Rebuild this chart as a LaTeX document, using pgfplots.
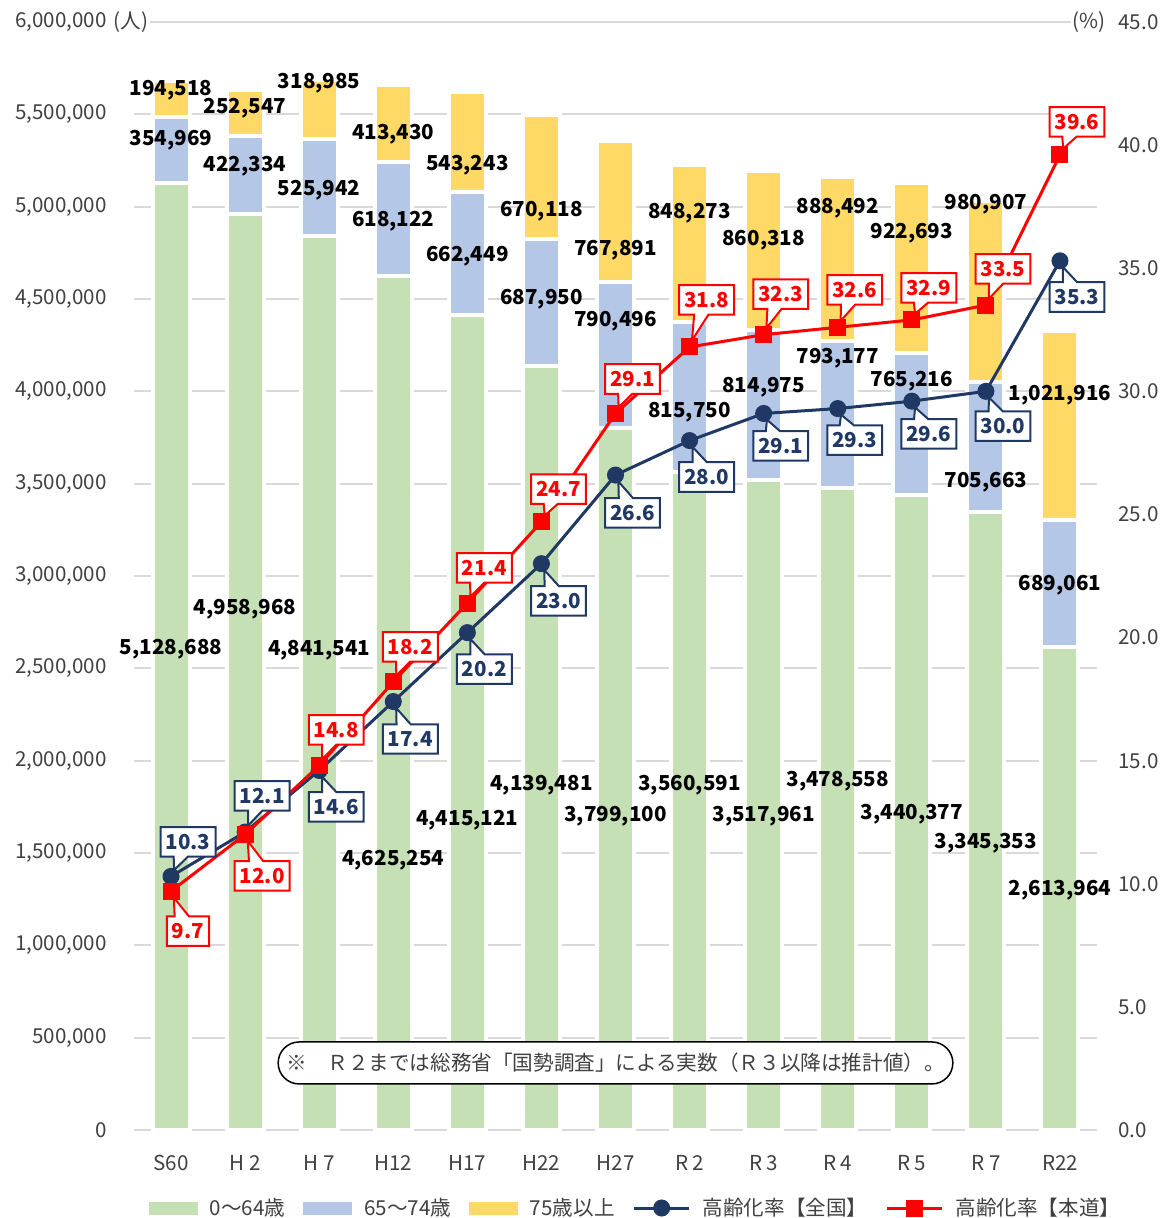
\documentclass[border=0pt]{standalone}
\usepackage{fontspec}
\setmainfont{Noto Sans CJK JP}
\usepackage{pgfplots}
\pgfplotsset{compat=1.18}
\usetikzlibrary{shapes.callouts,shapes.misc}
\definecolor{cG}{HTML}{C5E0B4}
\definecolor{cB}{HTML}{B4C7E7}
\definecolor{cY}{HTML}{FFD966}
\definecolor{navy}{HTML}{1F3864}
\definecolor{cR}{HTML}{FF0000}
\definecolor{gridc}{HTML}{D9D9D9}
\definecolor{tickc}{HTML}{404040}
\newcommand\fs{\fontsize{10.3}{12.4}\selectfont}
% bar value labels, placed on the right-hand (percent) scale so they sit above the bars
\newcommand\bl[3]{\node[font=\fs\bfseries, text=black, inner sep=0pt] at (axis cs:#1,#2) {#3};}
\tikzset{
  navycall/.style={rectangle callout, draw=navy, fill=white, line width=1pt, text=navy, font=\fs\bfseries, inner xsep=2.5pt, inner ysep=3.5pt, callout pointer shorten=3.5pt},
  redcall/.style={rectangle callout, draw=cR, fill=white, line width=1pt, text=cR, font=\fs\bfseries, inner xsep=2.5pt, inner ysep=3.5pt, callout pointer shorten=3.5pt},
}
\newcommand\nc[3]{\node[navycall, callout absolute pointer={(axis cs:#1,#2)}] at (axis cs:#1+0.23,#3) {#2};}
\newcommand\rc[3]{\node[redcall, callout absolute pointer={(axis cs:#1,#2)}] at (axis cs:#1+0.23,#3) {#2};}
\pgfplotsset{
  linelegend/.style={legend image code/.code={\draw[mark repeat=2,mark phase=2,##1] plot coordinates {(0pt,0pt) (13.75pt,0pt) (27.5pt,0pt)};}},
}
\begin{document}
\begin{tikzpicture}
\useasboundingbox (0,0) rectangle (581pt,609pt);
\begin{axis}[
  at={(67pt,44pt)}, anchor=south west, scale only axis, width=481.5pt, height=554pt,
  clip=false,
  ybar stacked, bar width=18.5pt,
  xmin=-0.5, xmax=12.5, ymin=0, ymax=6000000,
  xtick={0,1,2,3,4,5,6,7,8,9,10,11,12},
  xticklabels={S60,H 2,H 7,H12,H17,H22,H27,R 2,R 3,R 4,R 5,R 7,R22},
  ytick={0,500000,1000000,1500000,2000000,2500000,3000000,3500000,4000000,4500000,5000000,5500000,6000000},
  scaled y ticks=false,
  yticklabel={\pgfmathprintnumber[fixed,precision=0,1000 sep={,},assume math mode=true]{\tick}},
  ymajorgrids, grid style={draw=gridc, line width=1pt},
  axis line style={draw=none}, major tick length=0pt,
  tick label style={font=\fs, text=tickc},
  yticklabel style={anchor=east, inner sep=0pt, xshift=-13.5pt},
  xticklabel style={anchor=center, inner sep=0pt, yshift=-16.5pt},
]
\addplot[fill=cG, draw=white, line width=2pt] coordinates {(0,5128688) (1,4958968) (2,4841541) (3,4625254) (4,4415121) (5,4139481) (6,3799100) (7,3560591) (8,3517961) (9,3478558) (10,3440377) (11,3345353) (12,2613964)};
\addplot[fill=cB, draw=white, line width=2pt] coordinates {(0,354969) (1,422334) (2,525942) (3,618122) (4,662449) (5,687950) (6,790496) (7,815750) (8,814975) (9,793177) (10,765216) (11,705663) (12,689061)};
\addplot[fill=cY, draw=white, line width=2pt] coordinates {(0,194518) (1,252547) (2,318985) (3,413430) (4,543243) (5,670118) (6,767891) (7,848273) (8,860318) (9,888492) (10,922693) (11,980907) (12,1021916)};
\end{axis}
\begin{axis}[
  at={(67pt,44pt)}, anchor=south west, scale only axis, width=481.5pt, height=554pt,
  clip=false,
  xmin=-0.5, xmax=12.5, ymin=0, ymax=45,
  axis line style={draw=none}, major tick length=0pt, xtick=\empty,
  ytick={0,5,10,15,20,25,30,35,40,45}, yticklabel pos=right,
  yticklabel={\pgfmathprintnumber[fixed,fixed zerofill,precision=1,assume math mode=true]{\tick}},
  tick label style={font=\fs, text=tickc},
  yticklabel style={anchor=west, inner sep=0pt, xshift=10.5pt},
  legend style={at={(0.522,-0.0704)}, anchor=center, draw=none, fill=none, font=\fs, text=tickc,
    /tikz/every odd column/.append style={column sep=4pt},
    /tikz/every even column/.append style={column sep=7pt}},
  legend columns=5, legend cell align=left,
]
\addlegendimage{legend image code/.code={\fill[cG] (0pt,-3pt) rectangle (24pt,3pt);}}
\addlegendentry{0～64歳}
\addlegendimage{legend image code/.code={\fill[cB] (0pt,-3pt) rectangle (24pt,3pt);}}
\addlegendentry{65～74歳}
\addlegendimage{legend image code/.code={\fill[cY] (0pt,-3pt) rectangle (24pt,3pt);}}
\addlegendentry{75歳以上}
% labels 0-64 (positions on percent scale)
\bl{0}{19.535}{5,128,688}
\bl{1}{21.160}{4,958,968}
\bl{2}{19.495}{4,841,541}
\bl{3}{10.966}{4,625,254}
\bl{4}{12.590}{4,415,121}
\bl{5}{14.012}{4,139,481}
\bl{6}{12.753}{3,799,100}
\bl{7}{14.012}{3,560,591}
\bl{8}{12.753}{3,517,961}
\bl{9}{14.174}{3,478,558}
\bl{10}{12.834}{3,440,377}
\bl{11}{11.656}{3,345,353}
\bl{12}{9.747}{2,613,964}
% labels 65-74
\bl{0}{40.208}{354,969}
\bl{1}{39.152}{422,334}
\bl{2}{38.177}{525,942}
\bl{3}{36.918}{618,122}
\bl{4}{35.496}{662,449}
\bl{5}{33.750}{687,950}
\bl{6}{32.857}{790,496}
\bl{7}{29.161}{815,750}
\bl{8}{30.176}{814,975}
\bl{9}{31.354}{793,177}
\bl{10}{30.420}{765,216}
\bl{11}{26.318}{705,663}
\bl{12}{22.135}{689,061}
% labels 75+
\bl{0}{42.238}{194,518}
\bl{1}{41.507}{252,547}
\bl{2}{42.523}{318,985}
\bl{3}{40.451}{413,430}
\bl{4}{39.192}{543,243}
\bl{5}{37.325}{670,118}
\bl{6}{35.740}{767,891}
\bl{7}{37.243}{848,273}
\bl{8}{36.147}{860,318}
\bl{9}{37.446}{888,492}
\bl{10}{36.431}{922,693}
\bl{11}{37.608}{980,907}
\bl{12}{29.851}{1,021,916}
\addplot[navy, line width=1.5pt, mark=*, mark size=3.5pt, linelegend] coordinates {(0,10.3) (1,12.1) (2,14.6) (3,17.4) (4,20.2) (5,23.0) (6,26.6) (7,28.0) (8,29.1) (9,29.3) (10,29.6) (11,30.0) (12,35.3)};
\addlegendentry{高齢化率【全国】}
\addplot[cR, line width=1.5pt, mark=square*, mark size=3.5pt, linelegend] coordinates {(0,9.7) (1,12.0) (2,14.8) (3,18.2) (4,21.4) (5,24.7) (6,29.1) (7,31.8) (8,32.3) (9,32.6) (10,32.9) (11,33.5) (12,39.6)};
\addlegendentry{高齢化率【本道】}
\nc{0}{10.3}{11.70}
\nc{1}{12.1}{13.57}
\nc{2}{14.6}{13.12}
\nc{3}{17.4}{15.88}
\nc{4}{20.2}{18.72}
\nc{5}{23.0}{21.49}
\nc{6}{26.6}{25.06}
\nc{7}{28.0}{26.52}
\nc{8}{29.1}{27.78}
\nc{9}{29.3}{28.02}
\nc{10}{29.6}{28.27}
\nc{11}{30.0}{28.59}
\nc{12}{35.3}{33.83}
\rc{0}{9.7}{8.08}
\rc{1}{12.0}{10.32}
\rc{2}{14.8}{16.25}
\rc{3}{18.2}{19.62}
\rc{4}{21.4}{22.83}
\rc{5}{24.7}{26.03}
\rc{6}{29.1}{30.50}
\rc{7}{31.8}{33.71}
\rc{8}{32.3}{33.95}
\rc{9}{32.6}{34.12}
\rc{10}{32.9}{34.20}
\rc{11}{33.5}{34.97}
\rc{12}{39.6}{40.94}
\node[fill=white, inner sep=1pt, font=\fs, text=tickc] at (rel axis cs:0,1) [xshift=-1.5pt] {(人)};
\node[fill=white, inner sep=1pt, font=\fs, text=tickc] at (rel axis cs:1,1) [xshift=-4pt] {(\%)};
\node[rounded rectangle, draw=black, fill=white, line width=0.75pt, minimum width=344pt, minimum height=21pt, font=\fs, text=tickc] at (rel axis cs:0.5,0.0605) {※　Ｒ２までは総務省「国勢調査」による実数（Ｒ３以降は推計値）。};
\end{axis}
\end{tikzpicture}
\end{document}
